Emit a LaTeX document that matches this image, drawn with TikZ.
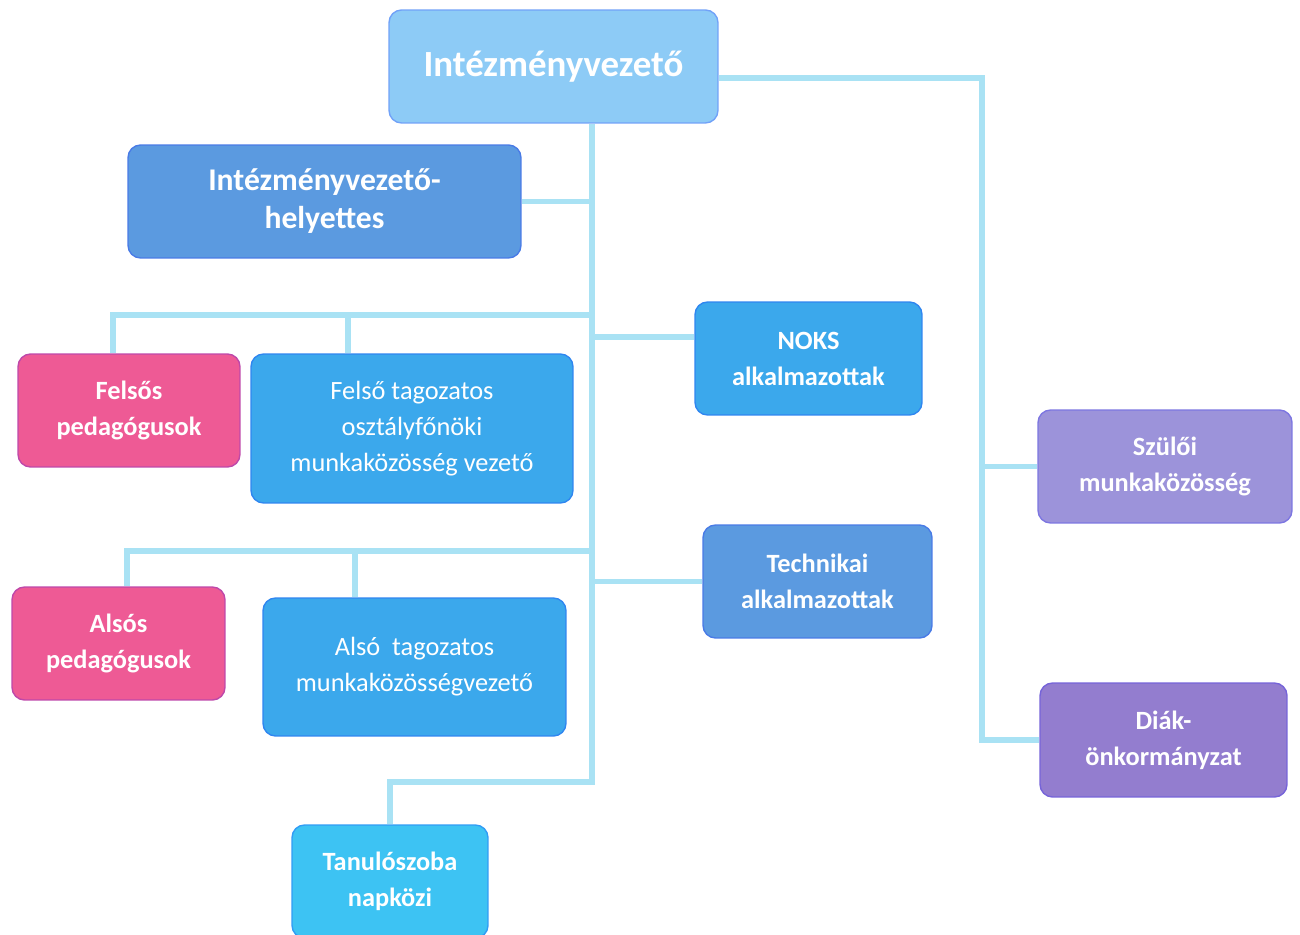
\documentclass[tikz,border=0pt]{standalone}
\usepackage{fontspec}
\setmainfont{Carlito}
\usepackage{tikz}

\definecolor{linecyan}{HTML}{A9E2F4}
\definecolor{topblue}{HTML}{8DCBF6}
\definecolor{midblue}{HTML}{5B9AE0}
\definecolor{skyblue}{HTML}{3BA8EC}
\definecolor{pinkbox}{HTML}{EE5A95}
\definecolor{lilac}{HTML}{9C93DA}
\definecolor{violet}{HTML}{937DCF}
\definecolor{cyanbox}{HTML}{3DC3F3}

\begin{document}
\begin{tikzpicture}[x=0.02cm,y=-0.02cm,
    orgbox/.style={draw=#1!80!blue, line width=0.8pt, fill=#1, rounded corners=0.25cm,
      text=white, align=center, inner sep=0pt,
      font=\bfseries\fontsize{15}{20.5}\selectfont},
    orgline/.style={draw=linecyan, line width=3.4pt}]
      \useasboundingbox (0,0) rectangle (1300,935);
      % boxes
      \node[orgbox=topblue, minimum width=6.58cm, minimum height=2.26cm,
        font=\bfseries\fontsize{21}{25}\selectfont] (top) at (553.5,66.5) {Intézményvezető};
      \node[orgbox=midblue, minimum width=7.86cm, minimum height=2.26cm,
        font=\bfseries\fontsize{18}{21.6}\selectfont] (help) at (324.5,201.5) {Intézményvezető-\\helyettes};
      \node[orgbox=pinkbox, minimum width=4.44cm, minimum height=2.26cm] (fped) at (129,410.5) {Felsős\\pedagógusok};
      \node[orgbox=skyblue, minimum width=6.44cm, minimum height=2.98cm,
        font=\fontsize{15}{20.5}\selectfont] (ftag) at (412,428.5) {Felső tagozatos\\osztályfőnöki\\munkaközösség vezető};
      \node[orgbox=skyblue, minimum width=4.54cm, minimum height=2.26cm] (noks) at (808.5,358.5) {NOKS\\alkalmazottak};
      \node[orgbox=midblue, minimum width=4.58cm, minimum height=2.26cm] (tech) at (817.5,581.5) {Technikai\\alkalmazottak};
      \node[orgbox=pinkbox, minimum width=4.26cm, minimum height=2.26cm] (aped) at (118.5,643.5) {Alsós\\pedagógusok};
      \node[orgbox=skyblue, minimum width=6.06cm, minimum height=2.76cm,
        font=\fontsize{15}{20.5}\selectfont] (atag) at (414.5,667) {Alsó\ \ tagozatos\\munkaközösségvezető};
      \node[orgbox=cyanbox, minimum width=3.92cm, minimum height=2.26cm] (tan) at (390,881.5) {Tanulószoba\\napközi};
      \node[orgbox=lilac, minimum width=5.08cm, minimum height=2.26cm] (szm) at (1165,466.5) {Szülői\\munkaközösség};
      \node[orgbox=violet, minimum width=4.94cm, minimum height=2.28cm] (diak) at (1163.5,740) {Diák-\\önkormányzat};
      % junctions
      \coordinate (trunk) at (592,782);
      \coordinate (fsplit) at (592,315);
      \coordinate (nlink) at (592,337);
      \coordinate (asplit) at (592,551);
      \coordinate (rdrop) at (982,740);
      % connectors
      \draw[orgline] (top.south -| trunk) -- (trunk) -| (tan.north);
      \foreach \name in {help.east, tech.west, nlink}
      \draw[orgline] (\name) -- (\name -| trunk);
      \draw[orgline] (nlink) -- (nlink -| noks.west);
      \draw[orgline] (fsplit) -| ([xshift=-0.32cm]fped.north);
      \draw[orgline] ([xshift=-1.28cm]ftag.north) |- (fsplit);
      \draw[orgline] (asplit) -| ([xshift=0.17cm]aped.north);
      \draw[orgline] ([xshift=-1.19cm]atag.north) |- (asplit);
      \draw[orgline] ([yshift=-0.23cm]top.east) -| (rdrop) -- (diak.west);
      \draw[orgline] (szm.west) -- (szm.west -| rdrop);
    \end{tikzpicture}
\end{document}
